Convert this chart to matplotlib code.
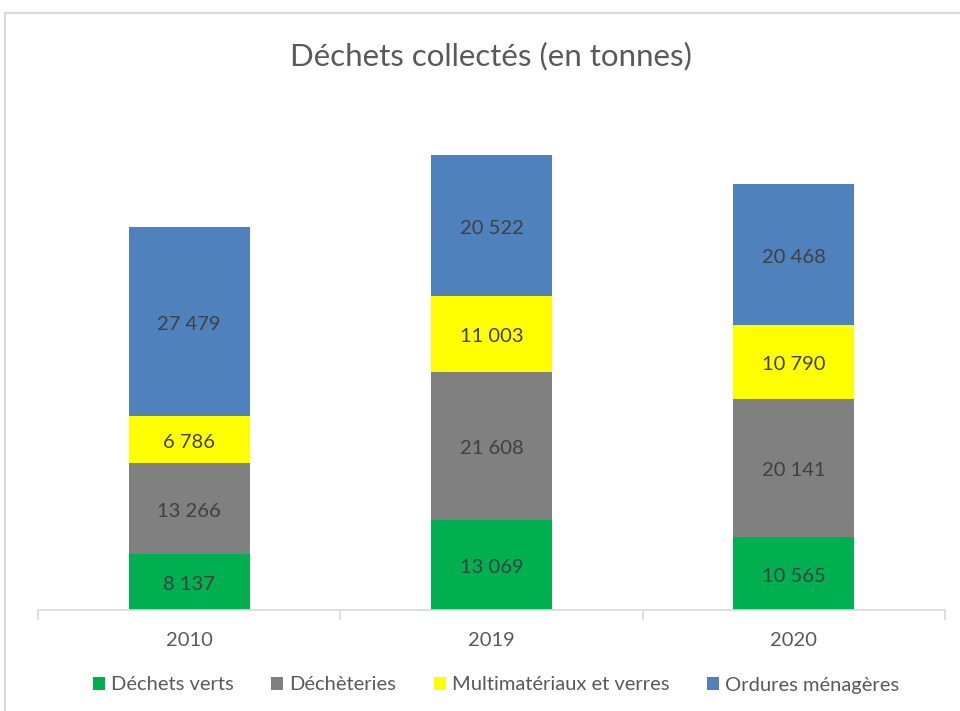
import matplotlib
matplotlib.use("Agg")
import matplotlib.pyplot as plt
from matplotlib.lines import Line2D
from matplotlib.patches import Patch

plt.rcParams["font.family"] = ["Lato", "DejaVu Sans"]

years = ["2010", "2019", "2020"]
series = ["Déchets verts", "Déchèteries", "Multimatériaux et verres", "Ordures ménagères"]
dechets_verts = [8137, 13069, 10565]
decheteries = [13266, 21608, 20141]
multimateriaux = [6786, 11003, 10790]
ordures = [27479, 20522, 20468]
colors = ["#00B050", "#808080", "#FFFF00", "#4F81BD"]


def fmt(v):
    return f"{v:,}".replace(",", " ")


fig = plt.figure(figsize=(9.6, 7.11), dpi=100)
ax = fig.add_axes([38 / 960, 1 - 610 / 711, (945 - 38) / 960, (610 - 129) / 711])

x = list(range(len(years)))
bottom = [0, 0, 0]
for name, vals, col in zip(series, [dechets_verts, decheteries, multimateriaux, ordures], colors):
    ax.bar(x, vals, width=0.4, bottom=bottom, color=col, label=name)
    for xi, b, v in zip(x, bottom, vals):
        ax.annotate(fmt(v), (xi, b + v / 2), xytext=(0, -2), textcoords="offset points",
                    ha="center", va="center", fontsize=14.5, color="#404040")
    bottom = [b + v for b, v in zip(bottom, vals)]

ax.set_xlim(-0.5, 2.5)
ax.set_ylim(0, 70000)
ax.set_yticks([])
for s in ["top", "right", "left"]:
    ax.spines[s].set_visible(False)
ax.spines["bottom"].set_color("#d9d9d9")
ax.spines["bottom"].set_linewidth(1.2)
ax.set_xticks(x)
ax.set_xticklabels(years, fontsize=14.5, color="#595959")
ax.tick_params(axis="x", length=0, pad=16)
ax.set_xticks([-0.5, 0.5, 1.5, 2.5], minor=True)
ax.tick_params(axis="x", which="minor", length=7, color="#d9d9d9", width=1.2)

fig.text(491 / 960, 1 - 56 / 711, "Déchets collectés (en tonnes)", ha="center", va="center",
         fontsize=22.5, color="#595959")

handles = [Patch(facecolor=c, edgecolor="none") for c in colors]
fig.legend(handles, series, loc="center", bbox_to_anchor=(496 / 960, 1 - 685 / 711), ncol=4,
           frameon=False, fontsize=14.5, handlelength=0.6, handleheight=0.6, handletextpad=0.3,
           columnspacing=1.85, labelcolor="#595959")

# chart frame (top and left edges visible)
fig.add_artist(Line2D([5 / 960, 1], [1 - 13 / 711, 1 - 13 / 711], color="#d9d9d9", lw=1.5,
                      transform=fig.transFigure))
fig.add_artist(Line2D([5 / 960, 5 / 960], [0, 1 - 13 / 711], color="#d9d9d9", lw=1.5,
                      transform=fig.transFigure))

fig.savefig("out.png", dpi=100)
